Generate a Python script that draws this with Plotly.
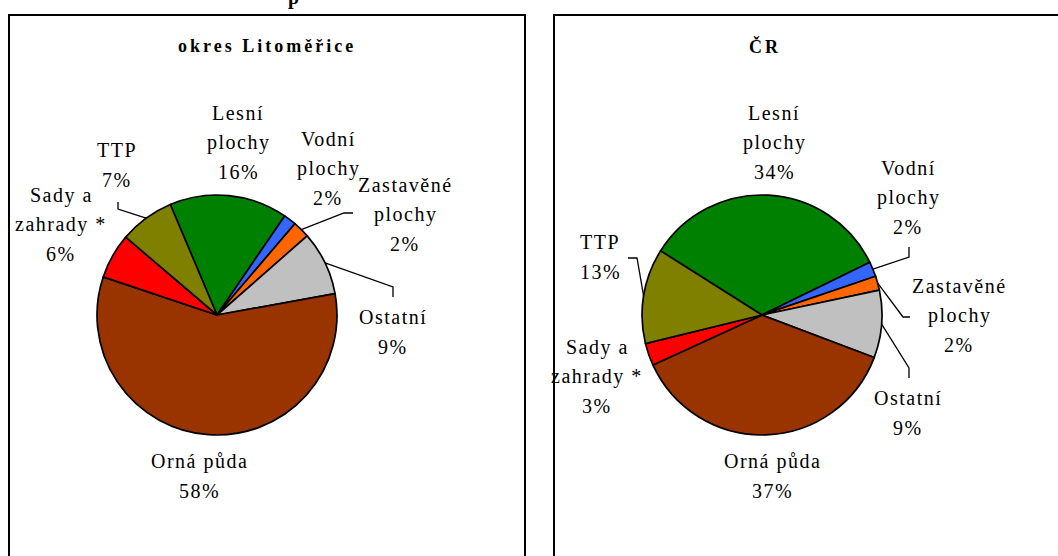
import math
import plotly.graph_objects as go

W, H = 1058, 556

# ---- data ----
categories = ["Lesní plochy", "Vodní plochy", "Zastavěné plochy", "Ostatní",
              "Orná půda", "Sady a zahrady *", "TTP"]
label_lines = [["Lesní", "plochy"], ["Vodní", "plochy"], ["Zastavěné", "plochy"],
               ["Ostatní"], ["Orná půda"], ["Sady a", "zahrady *"], ["TTP"]]
litomerice_values = [15.9, 1.7, 2.3, 8.6, 58.0, 6.1, 7.4]
cr_values = [33.8, 2.0, 1.9, 9.1, 37.4, 3.0, 12.8]
panel_titles = ["okres Litoměřice", "ČR"]

# ---- style ----
colors = ["#008000", "#3366FF", "#FF6600", "#C0C0C0", "#993300", "#FF0000", "#808000"]
FONT = "Liberation Serif, Times New Roman, serif"


def px(x):
    return x / W


def py(y):
    return 1 - y / H


panels = [
    dict(values=litomerice_values, title=panel_titles[0], cx=217, cy=315, r=120,
         rotation=-22.9, title_x=267,
         label_pos=[(238, 113), (328, 139), (405, 185), (393, 317), (199, 461), (61, 195), (117, 150)],
         leaders={6: [(118, 202), (118, 209)], 2: [(353, 213), (344, 213)], 3: [(393, 297), (393, 287)]}),
    dict(values=cr_values, title=panel_titles[1], cx=762, cy=315, r=120,
         rotation=-57.7, title_x=765,
         label_pos=[(774, 113), (908, 168), (959, 286), (908, 398), (772, 461), (597, 347), (600, 242)],
         leaders={6: [(628, 258), (637, 258)], 1: [(909, 247), (909, 257)],
                  2: [(910, 317), (903, 317)], 3: [(909, 378), (909, 368)]}),
]

fig = go.Figure()
annotations = []
shapes = []

# frames
shapes.append(dict(type="rect", xref="paper", yref="paper", x0=px(9), x1=px(525),
                   y0=-0.05, y1=py(15), line=dict(color="black", width=2), layer="below"))
shapes.append(dict(type="rect", xref="paper", yref="paper", x0=px(554), x1=1.05,
                   y0=-0.05, y1=py(15), line=dict(color="black", width=2), layer="below"))

LINE_SP = 29.5
for p in panels:
    vals = p["values"]
    total = sum(vals)
    cx, cy, r = p["cx"], p["cy"], p["r"]
    fig.add_trace(go.Pie(
        labels=categories, values=vals, sort=False, direction="clockwise",
        rotation=p["rotation"], textinfo="none", hoverinfo="label+percent",
        marker=dict(colors=colors, line=dict(color="black", width=1.7)),
        domain=dict(x=[px(cx - r), px(cx + r)], y=[py(cy + r), py(cy - r)]),
        showlegend=False,
    ))
    # panel title
    annotations.append(dict(
        x=px(p["title_x"]), y=py(46), xref="paper", yref="paper", showarrow=False,
        text='<span style="letter-spacing:3px"><b>' + p["title"] + "</b></span>",
        font=dict(family=FONT, size=18, color="black"), xanchor="center", yanchor="middle"))
    # labels
    cum = 0.0
    for i, v in enumerate(vals):
        lines = label_lines[i] + [f"{round(v / total * 100)}%"]
        lx, ly = p["label_pos"][i]
        for k, t in enumerate(lines):
            annotations.append(dict(
                x=px(lx), y=py(ly + k * LINE_SP), xref="paper", yref="paper", showarrow=False,
                text='<span style="letter-spacing:1.5px">' + t + "</span>",
                font=dict(family=FONT, size=20, color="black"),
                xanchor="center", yanchor="middle"))
        mid = math.radians(p["rotation"] + 360 * (cum + v / 2) / total)
        cum += v
        if i in p["leaders"]:
            ax = cx + r * math.sin(mid)
            ay = cy - r * math.cos(mid)
            pts = p["leaders"][i] + [(ax, ay)]
            path = "M " + " L ".join(f"{px(x):.5f},{py(y):.5f}" for x, y in pts)
            shapes.append(dict(type="path", xref="paper", yref="paper", path=path,
                               line=dict(color="black", width=1.3)))

# cropped main title fragment
annotations.append(dict(x=px(293), y=py(-3), xref="paper", yref="paper", showarrow=False,
                        text="<b>p</b>", font=dict(family=FONT, size=20, color="black"),
                        xanchor="center", yanchor="middle"))

fig.update_layout(
    width=W, height=H, margin=dict(l=0, r=0, t=0, b=0),
    paper_bgcolor="white", plot_bgcolor="white",
    annotations=annotations, shapes=shapes,
)
fig.write_html("out.html", config={"displayModeBar": False},
               post_script="document.body.style.margin='0px';document.body.style.overflow='hidden';")
